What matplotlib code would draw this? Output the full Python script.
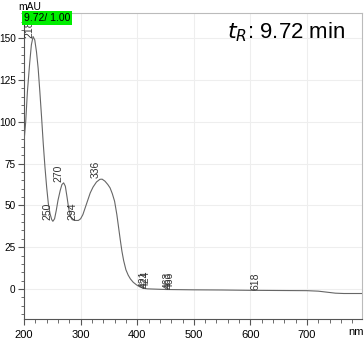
"""UV spectrum of the peak at 9.72 min"""
import numpy as np
import matplotlib.pyplot as plt
from matplotlib.ticker import MultipleLocator

plt.rcParams['font.family'] = ['Liberation Sans', 'DejaVu Sans']

# spectrum (nm, mAU)
wavelength = [200, 203, 206, 210, 213, 216, 219, 222, 225, 228, 231, 234, 237, 240,
              243, 246, 249, 251, 254, 257, 260, 264, 267, 270, 273, 276, 279, 282,
              285, 290, 296, 300, 304, 308, 312, 317, 322, 328, 334, 338, 343, 348,
              352, 356, 360, 364, 367, 370, 373, 376, 380, 384, 388, 393, 399, 405,
              411, 418, 425, 450, 500, 550, 600, 650, 700, 720, 735, 750, 765, 780, 797]
absorbance = [88, 100, 118, 135, 146, 151, 149, 142, 132, 118, 103, 87, 73, 61,
              51, 45, 41.5, 40.5, 42, 47, 53, 59, 62.5, 63.5, 61.5, 55, 48, 43.5,
              41.5, 41, 41, 42, 44.5, 48.5, 52.5, 57.5, 61, 64, 65.6, 65.7, 64.5, 62.5,
              60.5, 57, 52.5, 44.5, 37, 29.5, 22.5, 17, 11.5, 8.3, 6, 4, 2.4, 1.2,
              0.4, 0.1, 0, -0.3, -0.5, -0.6, -0.8, -0.9, -1.0, -1.3, -1.9, -2.5, -2.7, -2.7, -2.7]

# labelled peaks / valleys
peak_nm = [218, 250, 270, 294, 336, 421, 424, 463, 466, 618]

fig = plt.figure(figsize=(3.64, 3.43), dpi=100)
ax = fig.add_axes([24 / 364, 24.5 / 343, 338 / 364, 305.5 / 343])

ax.plot(wavelength, absorbance, color='#666666', linewidth=0.8, zorder=3)

ax.set_xlim(200, 797)
ax.set_ylim(-17.65, 165.1)

ax.xaxis.set_major_locator(MultipleLocator(100))
ax.yaxis.set_major_locator(MultipleLocator(25))
ax.yaxis.set_minor_locator(MultipleLocator(5))
ax.set_xticks([200, 300, 400, 500, 600, 700])
ax.set_xticks(np.arange(200, 797, 20), minor=True)

ax.grid(True, which='major', color='#eeeeee', linewidth=0.8, zorder=0)
ax.tick_params(axis='both', which='both', direction='out', colors='#555555')
ax.tick_params(axis='x', which='major', length=4, labelsize=8, pad=4, labelcolor='black')
ax.tick_params(axis='x', which='minor', length=3)
ax.tick_params(axis='y', which='major', length=4, labelsize=7.2, pad=2, labelcolor='black')
ax.tick_params(axis='y', which='minor', length=2)

for side in ['left', 'bottom']:
    ax.spines[side].set_color('#555555')
    ax.spines[side].set_linewidth(0.8)
for side in ['top', 'right']:
    ax.spines[side].set_color('#bbbbbb')
    ax.spines[side].set_linewidth(0.8)

# peak labels, rotated, sitting on the trace
for nm in peak_nm:
    y = np.interp(nm, wavelength, absorbance)
    ax.text(nm, y + 0.5, str(nm), rotation=90, ha='right', va='bottom',
            fontsize=7.5, color='#333333', zorder=4)

# retention time box
ax.text(0.0, 1.0, '9.72/ 1.00', transform=ax.transAxes, ha='left', va='top',
        fontsize=7.5, color='black', zorder=6,
        bbox=dict(facecolor='#00ee00', edgecolor='none', pad=1.2))

ax.text(0.95, 0.975, r'$t_R$: 9.72 min', transform=ax.transAxes, ha='right', va='top',
        fontsize=16, color='black')

fig.text(18 / 364, 1 - 7 / 343, 'mAU', ha='left', va='center', fontsize=7.5)
fig.text(364 / 364, 1 - 332 / 343, 'nm', ha='right', va='center', fontsize=8)

fig.savefig('out.png', dpi=100)
